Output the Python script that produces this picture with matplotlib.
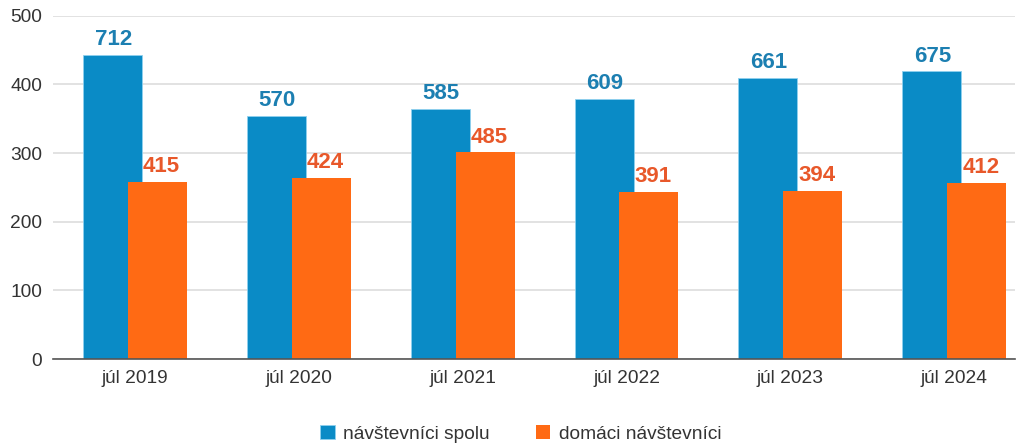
import numpy as np
import matplotlib
matplotlib.use("Agg")
import matplotlib.pyplot as plt

plt.rcParams["font.family"] = ["Liberation Sans", "DejaVu Sans"]

months = ["júl 2019", "júl 2020", "júl 2021", "júl 2022", "júl 2023", "júl 2024"]
series_names = ["návštevníci spolu", "domáci návštevníci"]

# bar heights
total_heights = [443, 354, 364, 379, 410, 419]
domestic_heights = [258, 264, 301, 243, 245, 256]

# numbers printed above the bars
total_labels = [712, 570, 585, 609, 661, 675]
domestic_labels = [415, 424, 485, 391, 394, 412]

blue = "#0a8bc6"
orange = "#ff6a14"
blue_txt = "#1c7fb1"
orange_txt = "#e8582a"

fig = plt.figure(figsize=(10.19, 4.43), dpi=100)
ax = fig.add_axes([0.052, 0.1896, 0.944, 0.7746])

x = np.arange(len(months))
w = 0.36
off = 0.137

b1 = ax.bar(x - off, total_heights, w, color=blue, edgecolor="#8fd0ee",
            linewidth=0.6, label=series_names[0], zorder=2)
b2 = ax.bar(x + off, domestic_heights, w, color=orange, edgecolor="none",
            label=series_names[1], zorder=3)

for xi, h, lab in zip(x - off, total_heights, total_labels):
    ax.annotate(str(lab), (xi, h), xytext=(0.5, 3.5), textcoords="offset points",
                ha="center", va="bottom", fontsize=16, fontweight="bold",
                color=blue_txt, zorder=5)
for xi, h, lab in zip(x + off, domestic_heights, domestic_labels):
    ax.annotate(str(lab), (xi, h), xytext=(3, 3.5), textcoords="offset points",
                ha="center", va="bottom", fontsize=16, fontweight="bold",
                color=orange_txt, zorder=5)

ax.set_ylim(0, 500)
ax.set_xlim(-0.5, 5.37)
ax.set_yticks(range(0, 501, 100))
ax.set_xticks(x)
ax.set_xticklabels(months)
ax.tick_params(axis="both", length=0, labelsize=13.8, colors="#333333")
ax.tick_params(axis="y", pad=8)
ax.tick_params(axis="x", pad=8)

ax.grid(axis="y", color="#dddddd", linewidth=1.2, zorder=0)
ax.set_axisbelow(True)
for s in ["top", "right", "left"]:
    ax.spines[s].set_visible(False)
ax.spines["bottom"].set_color("#555555")
ax.spines["bottom"].set_linewidth(1.2)
ax.spines["bottom"].set_zorder(4)

fig.legend(handles=[b1, b2], loc="lower center", bbox_to_anchor=(0.511, -0.038),
           ncol=2, frameon=False, fontsize=13.8, handlelength=0.75,
           handleheight=0.75, handletextpad=0.45, columnspacing=2.4,
           labelcolor="#333333")

fig.savefig("out.png", dpi=100)
